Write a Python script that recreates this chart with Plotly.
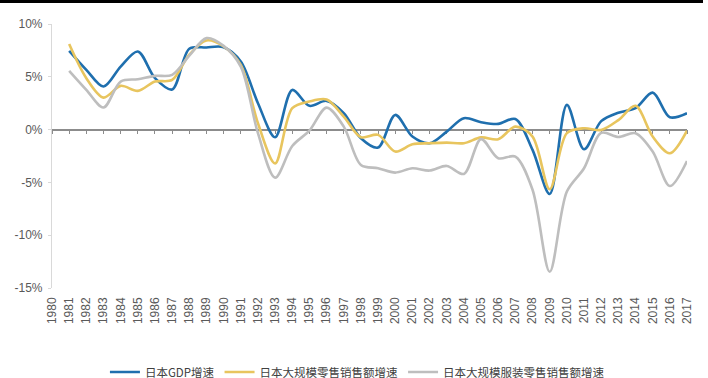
import plotly.graph_objects as go

years = list(range(1981, 2018))
tick_years = list(range(1980, 2018))
tick_labels = [str(y) for y in tick_years]
y_ticks = [-15, -10, -5, 0, 5, 10]
y_tick_labels = ["-15%", "-10%", "-5%", "0%", "5%", "10%"]

gdp = [7.46, 5.66, 4.08, 5.97, 7.40, 4.87, 3.80, 7.65, 7.78, 7.80, 6.45, 2.50, -0.72,
       3.76, 2.25, 2.72, 1.55, -0.82, -1.70, 1.39, -0.66, -1.29, -0.19, 1.08, 0.70,
       0.54, 1.01, -1.92, -6.10, 2.34, -1.86, 0.80, 1.60, 2.03, 3.50, 1.17, 1.55]
retail = [8.10, 4.87, 3.03, 4.14, 3.67, 4.55, 4.70, 7.10, 8.44, 7.87, 6.13, 0.60, -3.20,
          2.03, 2.66, 2.85, 1.23, -0.72, -0.50, -2.08, -1.39, -1.29, -1.23, -1.29, -0.74,
          -0.91, 0.28, -0.66, -5.65, -0.34, 0.13, -0.03, 0.90, 2.25, -0.66, -2.24, -0.10]
apparel = [5.56, 3.76, 2.09, 4.55, 4.77, 5.09, 5.18, 7.00, 8.66, 7.93, 5.97, -0.34, -4.55,
           -1.55, -0.10, 2.08, 0.28, -3.35, -3.66, -4.07, -3.66, -3.88, -3.44, -4.20, -0.90,
           -2.71, -2.56, -5.70, -13.46, -5.87, -3.66, -0.31, -0.70, -0.34, -2.08, -5.34, -2.97]

names = ["日本GDP增速", "日本大规模零售销售额增速", "日本大规模服装零售销售额增速"]
colors = ["#1F6FAE", "#E8C55E", "#BEBEBE"]

fig = go.Figure()
for vals, name, col in zip([gdp, retail, apparel], names, colors):
    fig.add_trace(go.Scatter(x=years, y=vals, name=name, mode="lines",
                             line=dict(color=col, width=2.6, shape="spline", smoothing=0.9),
                             hoverinfo="skip"))
# invisible helper trace so the zero-position axis is drawn
fig.add_trace(go.Scatter(x=[tick_years[0], tick_years[-1]], y=[0, 0], xaxis="x2",
                         mode="lines", line=dict(width=0), opacity=0,
                         showlegend=False, hoverinfo="skip"))

rng = [tick_years[0], tick_years[-1]]
fig.update_layout(
    width=708, height=378,
    margin=dict(l=52, r=21, t=24, b=90, autoexpand=False),
    plot_bgcolor="white", paper_bgcolor="white",
    font=dict(family="Liberation Sans, Arial", color="#595959"),
    xaxis=dict(range=rng, tickmode="array", tickvals=tick_years, ticktext=tick_labels,
               tickangle=-90, tickfont=dict(size=12, color="#595959"),
               showline=False, showgrid=False, zeroline=False, ticks="",
               automargin=False, ticklabelstandoff=6),
    xaxis2=dict(range=rng, overlaying="x", anchor="free", position=0.6, side="bottom",
                tickmode="array", tickvals=tick_years, showticklabels=False,
                showline=True, linecolor="#8C8C8C", linewidth=1.5,
                ticks="outside", ticklen=4, tickcolor="#8C8C8C", tickwidth=1,
                showgrid=False, zeroline=False, layer="below traces", automargin=False),
    yaxis=dict(range=[-15, 10], tickmode="array", tickvals=y_ticks, ticktext=y_tick_labels,
               tickfont=dict(size=12, color="#595959"),
               showline=True, linecolor="#D9D9D9", linewidth=1.2,
               ticks="outside", ticklen=3, tickcolor="#D9D9D9",
               showgrid=False, zeroline=False, layer="below traces",
               automargin=False, ticklabelstandoff=3),
    legend=dict(orientation="h", x=0.481, xanchor="center",
                yref="container", y=(378 - 372) / 378, yanchor="middle",
                font=dict(family="Noto Sans CJK SC", size=11.5, color="#404040"),
                bgcolor="rgba(0,0,0,0)"),
    showlegend=True,
)
# black strip at the very top of the picture
fig.add_shape(type="rect", xref="paper", yref="paper",
              x0=(0 - 52) / 635, x1=(703 - 52) / 635,
              y0=(288 - 3) / 264, y1=(288 - 0) / 264 + 0.01,
              fillcolor="black", line=dict(width=0), layer="above")

fig.write_html("out.html")
